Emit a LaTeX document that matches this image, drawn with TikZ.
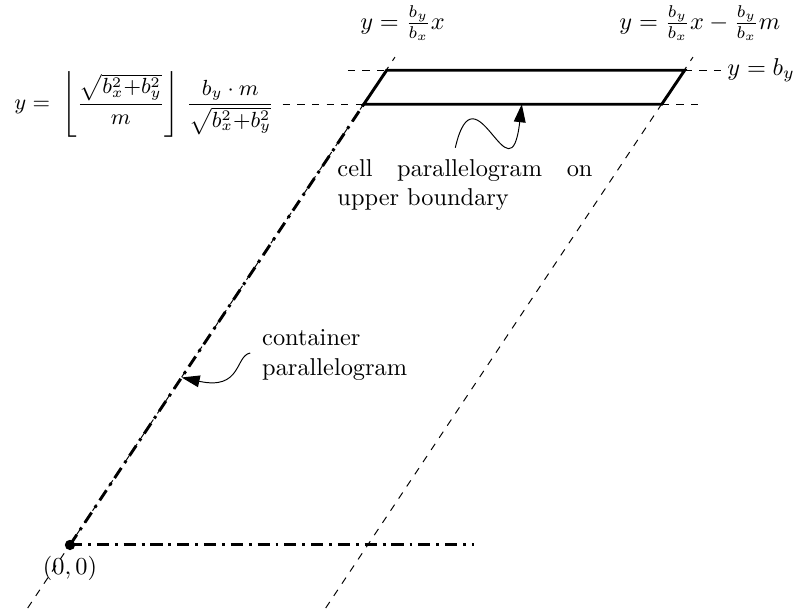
\documentclass[tikz,border=0pt]{standalone}
\usepackage{amsmath,amssymb}
\usepackage{tikz}
\usetikzlibrary{arrows.meta,positioning,calc}
\tikzset{
  guide/.style={thin, dashed},
  contline/.style={very thick, dash pattern=on 5pt off 2.4pt on 1.2pt off 2.4pt},
  cellline/.style={very thick},
  dotn/.style={draw, circle, fill=black, minimum size=3.8pt, inner sep=0pt},
  note/.style={font=\normalsize, inner sep=3.3pt},
  notearrow/.style={-{Triangle[length=0.26cm, width=0.17cm]}},
}

\begin{document}
\begin{tikzpicture}[>=Latex, x=1cm, y=1cm]
  \useasboundingbox (-1.010,-1.010) rectangle (10.621,7.864);

  % corners and ends
  \coordinate (O) at (0,0);
  \coordinate (hend) at (5.83,0);
  \coordinate (A) at (4.24,6.36);
  \coordinate (B) at (8.54,6.36);
  \coordinate (C) at (8.87,6.85);
  \coordinate (D) at (4.57,6.85);
  \coordinate (l1bot) at (-0.61,-0.91);
  \coordinate (l1top) at (4.69,7.04);
  \coordinate (l2bot) at (3.69,-0.91);
  \coordinate (l2top) at (8.99,7.04);
  \coordinate (topL) at (4.01,6.85);
  \coordinate (topR) at (9.41,6.85);
  \coordinate (lowL) at (3.07,6.36);
  \coordinate (lowR) at (9.12,6.36);

  % guide lines
  \draw[guide] (l1bot) -- (l1top);
  \draw[guide] (l2bot) -- (l2top);
  \draw[guide] (topL) -- (D);
  \draw[guide] (C) -- (topR);
  \draw[guide] (lowL) -- (A);
  \draw[guide] (B) -- (lowR);

  \node (line1label) at (4.80,7.53) {$y=\frac{b_y}{b_x}x$};
  \node (line2label) at (9.09,7.53) {$y=\frac{b_y}{b_x}x-\frac{b_y}{b_x}m$};
  \node[anchor=west, inner sep=2pt] (bylabel) at (topR) {$y=b_y$};
  \node[anchor=east, font=\small] (floorlabel) at (lowL)
    {$\displaystyle y=\;\left\lfloor\frac{\sqrt{b_x^2{+}b_y^2}}{m}\right\rfloor\,\frac{b_y\cdot m}{\sqrt{b_x^2{+}b_y^2}}$};

  % container and cell
  \draw[contline] (O) -- (hend);
  \draw[contline] (O) -- (A);
  \draw[cellline] (A) -- (B) -- (C) -- (D) -- cycle;

  \node[dotn] (dot) at (O) {};
  \node[below=1pt of O] (olabel) {$(0,0)$};

  % notes
  \node[note, text width=3.68cm, align=justify] (cellnote) at (5.70,5.19)
    {cell parallelogram on upper boundary};
  \coordinate (cellfrom) at ($(cellnote.north)+(-0.14,0.05)$);
  \coordinate (cellto) at (6.52,6.36);
  \draw[notearrow] (cellfrom) .. controls +(0.29,1.25) and +(-0.17,-1.45) .. (cellto);

  \node[note, align=left] (contnote) at (3.82,2.74) {container\\parallelogram};
  \coordinate (contfrom) at ($(contnote.west)+(-0.05,0.03)$);
  \coordinate (contto) at ($(O)!0.38!(A)$);
  \draw[notearrow] (contfrom) .. controls +(-0.22,-0.04) and +(0.87,-0.19) .. (contto);
\end{tikzpicture}
\end{document}
